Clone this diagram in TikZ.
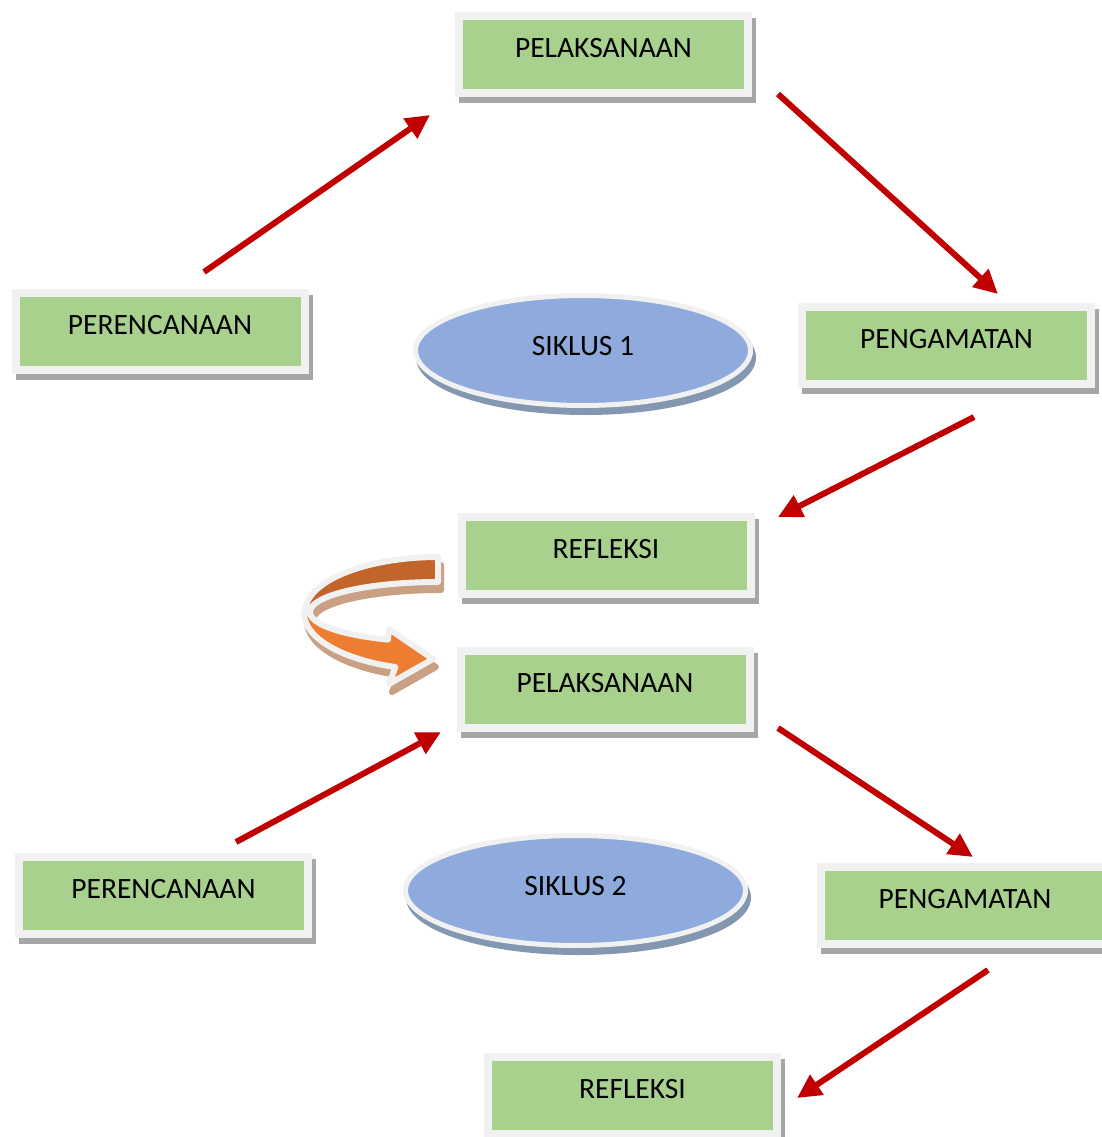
\documentclass[tikz,border=0pt]{standalone}
\usepackage{fontspec}
\setmainfont{Carlito}
\usetikzlibrary{arrows.meta,shapes.geometric}
\definecolor{boxgreen}{HTML}{A9D18E}
\definecolor{boxborder}{HTML}{F1F1F1}
\definecolor{shadowgray}{HTML}{A6A6A6}
\definecolor{ellblue}{HTML}{8FAADC}
\definecolor{ellshadow}{HTML}{8497B0}
\definecolor{arrowred}{HTML}{C00000}
\definecolor{darkorange}{HTML}{C2652A}
\definecolor{litorange}{HTML}{ED7D31}
\definecolor{orshadow}{HTML}{C9A083}
\begin{document}
\begin{tikzpicture}[x=1pt,y=-1pt,
  gbox/.style={rectangle, draw=boxborder, line width=8pt, fill=boxgreen,
    minimum width=289pt, minimum height=77pt, inner sep=0pt,
    text height=10pt, text depth=4pt, font=\fontsize{29.5}{31}\selectfont,
    preaction={fill=shadowgray, draw=shadowgray, transform canvas={xshift=4pt,yshift=-6pt}}},
  cyc/.style={ellipse, draw=boxborder, line width=5pt, fill=ellblue,
    minimum width=335pt, minimum height=110pt, inner sep=0pt,
    text height=10pt, text depth=1pt, font=\fontsize{29.5}{31}\selectfont,
    preaction={fill=ellshadow, draw=ellshadow, transform canvas={xshift=3pt,yshift=-7pt}}},
  arr/.style={draw=arrowred, line width=6pt, -{Triangle[length=24pt,width=23pt]}},
  ribbon/.style={draw=boxborder, line width=6pt, line join=round},
  ribshadow/.style={fill=orshadow, draw=orshadow, line width=6pt, line join=round}
]
\useasboundingbox (0,0) rectangle (1102,1137);

% boxes
\node[gbox] (pel1) at (603.5,54.5) {PELAKSANAAN};
\node[gbox] (per1) at (160,331.5) {PERENCANAAN};
\node[gbox] (pen1) at (946.5,345) {PENGAMATAN};
\node[gbox] (ref1) at (606,555.5) {REFLEKSI};
\node[gbox] (pel2) at (605,689.5) {PELAKSANAAN};
\node[gbox] (per2) at (163.5,895) {PERENCANAAN};
\node[gbox] (pen2) at (965,905.5) {PENGAMATAN};
\node[gbox] (ref2) at (632.5,1095.5) {REFLEKSI};

% cycle ellipses
\node[cyc] (sik1) at (583,350.5) {SIKLUS 1};
\node[cyc, minimum width=340pt] (sik2) at (575.5,890.5) {SIKLUS 2};

% red arrows
\coordinate (a1s) at (204,272);  \coordinate (a1e) at (430,115);
\coordinate (a2s) at (778,94);   \coordinate (a2e) at (998,294);
\coordinate (a3s) at (974,417);  \coordinate (a3e) at (778,517);
\coordinate (a4s) at (236,842);  \coordinate (a4e) at (441,732);
\coordinate (a5s) at (778,728);  \coordinate (a5e) at (973,857);
\coordinate (a6s) at (988,970);  \coordinate (a6e) at (797,1098);
\draw[arr] (a1s) -- (a1e);
\draw[arr] (a2s) -- (a2e);
\draw[arr] (a3s) -- (a3e);
\draw[arr] (a4s) -- (a4e);
\draw[arr] (a5s) -- (a5e);
\draw[arr] (a6s) -- (a6e);

% curved orange arrow (ribbon)
\def\ribtop{plot[domain=270:180, samples=40] ({438+133*cos(\x)}, {612+55*sin(\x)})
  -- plot[domain=180:270, samples=40] ({438+128*cos(\x)}, {612+30*sin(\x)}) -- cycle}
\def\ribbot{plot[domain=180:108.5, samples=40] ({438+134*cos(\x)}, {613+57*sin(\x)})
  -- (389,684) -- (433,659) -- (389,629)
  -- plot[domain=113:180, samples=40] ({438+128*cos(\x)}, {612+30*sin(\x)}) -- cycle}
\begin{scope}[shift={(3,8)}]
  \path[ribshadow] \ribtop;
  \path[ribshadow] \ribbot;
\end{scope}
\path[ribbon, fill=darkorange] \ribtop;
\path[ribbon, fill=litorange] \ribbot;
\end{tikzpicture}
\end{document}
